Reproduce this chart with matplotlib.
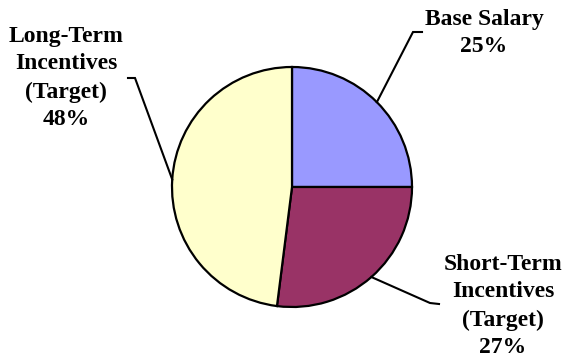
import matplotlib.pyplot as plt
import numpy as np

# data
categories = ["Base Salary", "Short-Term\nIncentives\n(Target)", "Long-Term\nIncentives\n(Target)"]
shares = [25, 27, 48]
colors = ["#9999FF", "#993366", "#FFFFCC"]

# layout in pixels (y up), figure is 566x362
W, H = 566, 362
center = (292, H - 187)
radius = 120
# label text centre and leader elbow/end for each slice
labelPos = [(484, H - 33), (503, H - 306), (66, H - 78)]
elbows = [((413, H - 32), (422, H - 32)),
          ((430, H - 303), (439, H - 304)),
          ((135, H - 78), (128, H - 78))]

plt.rcParams['font.family'] = ['Liberation Serif', 'DejaVu Serif']

fig = plt.figure(figsize=(W / 100, H / 100), dpi=100)
ax = fig.add_axes([0, 0, 1, 1])

wedges, _ = ax.pie(shares, colors=colors, startangle=90, counterclock=False,
                   center=center, radius=radius, frame=True,
                   wedgeprops=dict(edgecolor='black', linewidth=1.6))
ax.set_xlim(0, W)
ax.set_ylim(0, H)
ax.set_aspect('equal')
ax.axis('off')

for w, cat, val, pos, (elb, end) in zip(wedges, categories, shares, labelPos, elbows):
    mid = np.deg2rad((w.theta1 + w.theta2) / 2)
    sx = center[0] + radius * np.cos(mid)
    sy = center[1] + radius * np.sin(mid)
    ax.plot([sx, elb[0], end[0]], [sy, elb[1], end[1]], color='black', lw=1.5,
            solid_joinstyle='miter')
    ax.text(pos[0], pos[1], f"{cat}\n{val}%", ha='center', va='center',
            fontsize=17, fontweight='bold', linespacing=1.43)

fig.savefig("out.png", dpi=100)
